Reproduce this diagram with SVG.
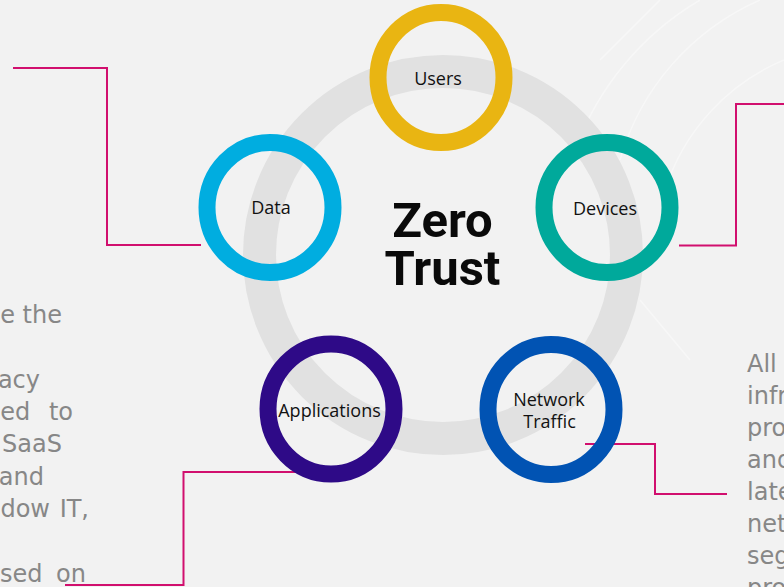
<svg xmlns="http://www.w3.org/2000/svg" width="784" height="587" viewBox="0 0 784 587">
<style>
.ring{fill:none;stroke-width:17}
.lbl{font-family:"Open Sans","DejaVu Sans",sans-serif;font-size:18px;font-weight:500;fill:#111111;text-anchor:middle}
.body{font-family:"DejaVu Sans","Noto Sans",sans-serif;font-size:24px;fill:#878787}
.conn{fill:none;stroke:#d10f6e;stroke-width:2}
.tech{fill:none;stroke:#ffffff;stroke-opacity:0.4;stroke-width:1.5}
</style>
<rect x="0" y="0" width="784" height="587" fill="#f2f2f2"/>
<g id="background">
  <path class="tech" d="M575 150 A290 290 0 0 1 700 0"/>
  <path class="tech" d="M620 160 A250 250 0 0 1 760 0"/>
  <path class="tech" d="M665 190 A210 210 0 0 1 784 60"/>
  <path class="tech" d="M600 60 L660 0 M640 300 L690 360"/>
</g>
<circle id="cycle" cx="443" cy="255" r="183.5" fill="none" stroke="#e1e1e1" stroke-width="33"/>
<g id="connectors">
  <polyline class="conn" points="13,68 107,68 107,245 201,245"/>
  <polyline class="conn" points="679,245.5 736,245.5 736,104 784,104"/>
  <polyline class="conn" points="302,472 183.5,472 183.5,585 65,585"/>
  <polyline class="conn" points="585,444 655,444 655,494 727,494"/>
</g>
<g id="users">
  <ellipse class="ring" cx="441" cy="77.5" rx="63" ry="65" stroke="#e9b512"/>
  <text class="lbl" x="438" y="85">Users</text>
</g>
<g id="data">
  <ellipse class="ring" cx="270" cy="207.5" rx="63" ry="65" stroke="#00ade0"/>
  <text class="lbl" x="271" y="214">Data</text>
</g>
<g id="devices">
  <ellipse class="ring" cx="607" cy="207.5" rx="63" ry="65" stroke="#00a99b"/>
  <text class="lbl" x="605" y="215">Devices</text>
</g>
<g id="applications">
  <ellipse class="ring" cx="331" cy="409" rx="63" ry="65" stroke="#2e0a87"/>
  <text class="lbl" x="329.5" y="417">Applications</text>
</g>
<g id="network-traffic">
  <ellipse class="ring" cx="551" cy="409.5" rx="63" ry="65" stroke="#0153b3"/>
  <text class="lbl" x="549" y="406">Network</text>
  <text class="lbl" x="549.5" y="427.5">Traffic</text>
</g>
<g id="zero-trust">
  <text x="442.5" y="237" font-family="Roboto,'Liberation Sans',sans-serif" font-weight="bold" font-size="49" fill="#0a0a0a" text-anchor="middle">Zero</text>
  <text x="442.5" y="285" font-family="Roboto,'Liberation Sans',sans-serif" font-weight="bold" font-size="49" fill="#0a0a0a" text-anchor="middle">Trust</text>
</g>
<g id="left-text">
  <text class="body" x="62" y="323" text-anchor="end">e the</text>
  <text class="body" x="40" y="388" text-anchor="end">acy</text>
  <text class="body" x="73" y="420" text-anchor="end" word-spacing="11">ed to</text>
  <text class="body" x="62" y="452" text-anchor="end">SaaS</text>
  <text class="body" x="44" y="485" text-anchor="end">and</text>
  <text class="body" x="89" y="517" text-anchor="end" word-spacing="2">dow IT,</text>
  <text class="body" x="86" y="582" text-anchor="end" word-spacing="6">sed on</text>
</g>
<g id="right-text">
  <text class="body" x="747" y="372">All</text>
  <text class="body" x="747" y="404">infr</text>
  <text class="body" x="747" y="436">pro</text>
  <text class="body" x="747" y="468">and</text>
  <text class="body" x="747" y="500">late</text>
  <text class="body" x="747" y="532">net</text>
  <text class="body" x="747" y="564">seg</text>
  <text class="body" x="747" y="596">pro</text>
</g>
</svg>
